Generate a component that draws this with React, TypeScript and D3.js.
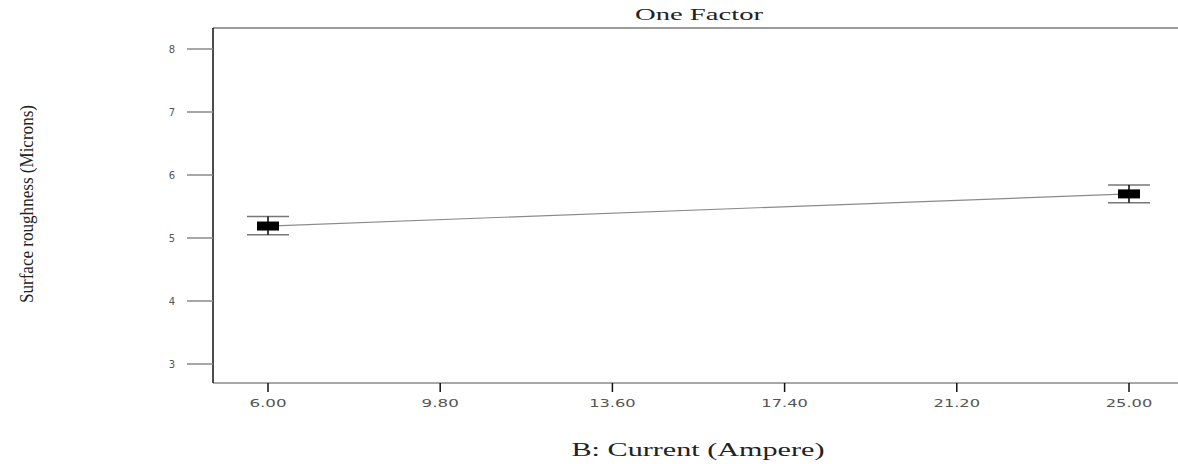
import React, { useEffect, useRef } from 'react';
import * as d3 from 'd3';

// design points: current (A) vs predicted roughness, with LSD bars
const currents = [6, 25];
const means = [5.19, 5.7];
const upper = [5.34, 5.84];
const lower = [5.05, 5.56];
const xTicks = [6, 9.8, 13.6, 17.4, 21.2, 25];
const yTicks = [3, 4, 5, 6, 7, 8];

const App = () => {
  const ref = useRef<SVGSVGElement>(null);

  useEffect(() => {
    const width = 1178;
    const height = 464;
    const left = 213, top = 28, bottom = 383;

    const svg = d3.select(ref.current);
    svg.selectAll('*').remove();
    svg.attr('width', width).attr('height', height);

    const x = d3.scaleLinear().domain([6, 25]).range([268, 1129]);
    const y = d3.scaleLinear().domain([3, 8]).range([364, 49]);

    // frame (no right border in the original)
    svg.append('line')
      .attr('x1', left).attr('x2', width).attr('y1', top).attr('y2', top)
      .attr('stroke', '#9a9a9a').attr('stroke-width', 2);
    svg.append('line')
      .attr('x1', left).attr('x2', width).attr('y1', bottom).attr('y2', bottom)
      .attr('stroke', '#8a8a8a').attr('stroke-width', 1.5);
    svg.append('line')
      .attr('x1', left).attr('x2', left).attr('y1', top).attr('y2', bottom)
      .attr('stroke', '#111').attr('stroke-width', 1.5);

    // y ticks
    const yg = svg.append('g');
    yg.selectAll('line').data(yTicks).join('line')
      .attr('x1', 187).attr('x2', left)
      .attr('y1', d => y(d)).attr('y2', d => y(d))
      .attr('stroke', '#8a8a8a').attr('stroke-width', 1.5);
    yg.selectAll('text').data(yTicks).join('text')
      .attr('x', 175).attr('y', d => y(d)).attr('dy', '0.35em')
      .attr('text-anchor', 'end')
      .attr('font-family', 'DejaVu Sans').attr('font-size', 10)
      .attr('fill', '#555')
      .text(d => d);

    // x ticks
    const xg = svg.append('g');
    xg.selectAll('line').data(xTicks).join('line')
      .attr('x1', d => x(d)).attr('x2', d => x(d))
      .attr('y1', bottom).attr('y2', bottom + 9)
      .attr('stroke', '#111').attr('stroke-width', 1.5);
    xg.selectAll('text').data(xTicks).join('text')
      .attr('x', d => x(d)).attr('y', 403).attr('dy', '0.35em')
      .attr('text-anchor', 'middle')
      .attr('font-family', 'DejaVu Sans').attr('font-size', 11)
      .attr('textLength', d => d3.format('.2f')(d).length * 9.3)
      .attr('lengthAdjust', 'spacingAndGlyphs')
      .attr('fill', '#555')
      .text(d => d3.format('.2f')(d));

    // prediction line
    svg.append('path')
      .datum(currents.map((c, i) => [c, means[i]] as [number, number]))
      .attr('d', d3.line<[number, number]>().x(d => x(d[0])).y(d => y(d[1])))
      .attr('fill', 'none').attr('stroke', '#8a8a8a').attr('stroke-width', 1.2);

    // error bars
    const pts = currents.map((c, i) => ({ c, m: means[i], hi: upper[i], lo: lower[i] }));
    const eb = svg.append('g');
    eb.selectAll('line.hi').data(pts).join('line').attr('class', 'hi')
      .attr('x1', d => x(d.c) - 21).attr('x2', d => x(d.c) + 21)
      .attr('y1', d => y(d.hi)).attr('y2', d => y(d.hi))
      .attr('stroke', '#777').attr('stroke-width', 1.5);
    eb.selectAll('line.lo').data(pts).join('line').attr('class', 'lo')
      .attr('x1', d => x(d.c) - 21).attr('x2', d => x(d.c) + 21)
      .attr('y1', d => y(d.lo)).attr('y2', d => y(d.lo))
      .attr('stroke', '#777').attr('stroke-width', 1.5);
    eb.selectAll('rect').data(pts).join('rect')
      .attr('x', d => x(d.c) - 11).attr('y', d => y(d.m) - 4.5)
      .attr('width', 22).attr('height', 9)
      .attr('fill', '#000');
    eb.selectAll('line.v').data(pts).join('line').attr('class', 'v')
      .attr('x1', d => x(d.c)).attr('x2', d => x(d.c))
      .attr('y1', d => y(d.hi)).attr('y2', d => y(d.lo))
      .attr('stroke', '#000').attr('stroke-width', 1.5);

    // titles
    svg.append('text')
      .attr('x', 699).attr('y', 20)
      .attr('text-anchor', 'middle')
      .attr('font-family', 'Liberation Serif').attr('font-size', 16)
      .attr('textLength', 128).attr('lengthAdjust', 'spacingAndGlyphs')
      .attr('fill', '#222')
      .text('One Factor');

    svg.append('text')
      .attr('x', 698).attr('y', 456)
      .attr('text-anchor', 'middle')
      .attr('font-family', 'Liberation Serif').attr('font-size', 19)
      .attr('textLength', 253).attr('lengthAdjust', 'spacingAndGlyphs')
      .attr('fill', '#222')
      .text('B: Current (Ampere)');

    svg.append('text')
      .attr('transform', 'translate(26,204) rotate(-90)')
      .attr('text-anchor', 'middle')
      .attr('dy', '0.35em')
      .attr('font-family', 'Liberation Serif').attr('font-size', 19)
      .attr('textLength', 198).attr('lengthAdjust', 'spacingAndGlyphs')
      .attr('fill', '#222')
      .text('Surface roughness (Microns)');
  }, []);

  return (
    <svg ref={ref} style={{ position: 'absolute', left: 0, top: 0, display: 'block', background: '#fff' }} />
  );
};

export default App;
